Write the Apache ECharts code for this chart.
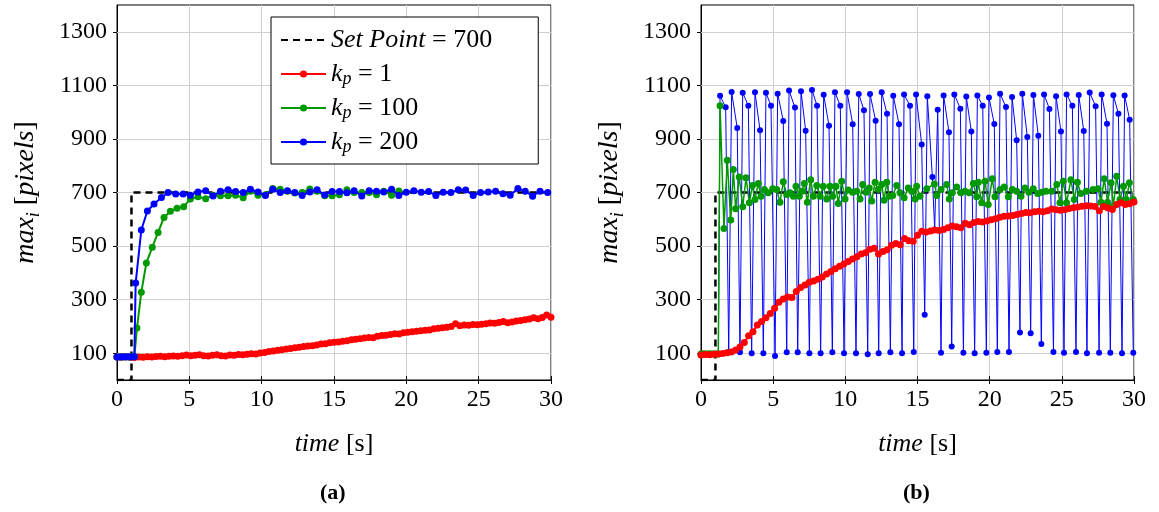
<!DOCTYPE html>
<html>
<head>
<meta charset="utf-8">
<script src="https://cdn.jsdelivr.net/npm/echarts@6/dist/echarts.min.js"></script>
<style>
  html, body { margin: 0; padding: 0; background: #fff; }
  #chart { width: 1159px; height: 512px; }
</style>
</head>
<body>
<div id="chart"></div>
<script>
// tick values
const xTicks = [0, 5, 10, 15, 20, 25, 30]
const yTicks = [100, 300, 500, 700, 900, 1100, 1300]

// set point step (both plots)
const setPoint = [[0, 0], [1, 0], [1, 700], [30, 700]]

// (a) kp = 1
const kp1A = [
  [0, 86], [0.3, 85], [0.6, 87], [0.9, 85], [1.2, 84], [1.5, 86], [1.8, 85], [2.1, 87], [2.4, 86], [2.7, 88],
  [3.0, 89], [3.3, 87], [3.6, 89], [3.9, 90], [4.2, 89], [4.5, 91], [4.8, 93], [5.1, 91], [5.4, 92], [5.7, 94],
  [6.0, 91], [6.3, 90], [6.6, 92], [6.9, 94], [7.2, 91], [7.5, 90], [7.8, 93], [8.1, 92], [8.4, 95], [8.7, 94],
  [9.0, 96], [9.3, 98], [9.6, 97], [9.9, 101], [10.2, 103], [10.5, 106], [10.8, 108], [11.1, 111], [11.4, 113], [11.7, 116],
  [12.0, 118], [12.3, 120], [12.6, 122], [12.9, 125], [13.2, 127], [13.5, 128], [13.8, 131], [14.1, 134], [14.4, 135], [14.7, 139],
  [15.0, 141], [15.3, 142], [15.6, 145], [15.9, 147], [16.2, 150], [16.5, 152], [16.8, 154], [17.1, 157], [17.4, 159], [17.7, 158],
  [18.0, 163], [18.3, 166], [18.6, 167], [18.9, 170], [19.2, 173], [19.5, 172], [19.8, 176], [20.1, 178], [20.4, 180], [20.7, 182],
  [21.0, 184], [21.3, 186], [21.6, 187], [21.9, 191], [22.2, 193], [22.5, 195], [22.8, 197], [23.1, 200], [23.4, 210], [23.7, 203],
  [24.0, 205], [24.3, 204], [24.6, 207], [24.9, 206], [25.2, 208], [25.5, 210], [25.8, 213], [26.1, 212], [26.4, 215], [26.7, 218],
  [27.0, 214], [27.3, 217], [27.6, 220], [27.9, 222], [28.2, 225], [28.5, 228], [28.8, 232], [29.1, 229], [29.4, 233], [29.7, 243],
  [30.0, 234]
]

// (a) kp = 100
const kp100A = [
  [0, 86], [0.2, 87], [0.4, 86], [0.6, 87], [0.8, 86], [1.0, 87], [1.2, 88], [1.38, 194], [1.68, 328], [2.03, 437],
  [2.44, 496], [2.84, 551], [3.25, 607], [3.69, 630], [4.15, 641], [4.61, 647], [5.07, 676], [5.6, 684], [6.13, 677], [6.64, 690],
  [7.15, 688], [7.68, 688], [8.2, 690], [8.72, 680], [9.22, 705], [9.75, 690], [10.26, 692], [10.77, 715], [11.28, 712], [11.78, 705],
  [12.29, 698], [12.8, 700], [13.33, 713], [13.83, 705], [14.36, 688], [14.87, 688], [15.38, 692], [15.89, 710], [16.39, 700], [16.92, 700],
  [17.43, 700], [17.94, 692], [18.44, 705], [18.98, 690], [19.48, 706]
]

// (a) kp = 200
const kp200A = [
  [0, 86], [0.2, 86], [0.4, 87], [0.6, 86], [0.8, 87], [1.0, 86], [1.2, 87], [1.29, 362], [1.68, 560], [2.1, 631],
  [2.56, 657], [3.07, 681], [3.53, 700], [4.06, 694], [4.57, 694], [5.07, 690], [5.6, 702], [6.13, 707], [6.64, 687], [7.15, 705],
  [7.68, 710], [8.2, 704], [8.72, 700], [9.22, 712], [9.75, 702], [10.26, 689], [10.77, 712], [11.28, 700], [11.78, 707], [12.29, 700],
  [12.8, 689], [13.33, 702], [13.83, 710], [14.36, 691], [14.87, 704], [15.38, 704], [15.89, 699], [16.39, 707], [16.92, 687], [17.43, 707],
  [17.94, 705], [18.44, 702], [18.98, 712], [19.48, 689], [19.99, 701], [20.52, 707], [21.03, 701], [21.54, 704], [22.04, 689], [22.55, 701],
  [23.08, 700], [23.59, 710], [24.1, 709], [24.62, 689], [25.13, 700], [25.66, 702], [26.17, 705], [26.68, 695], [27.18, 690], [27.71, 715],
  [28.22, 705], [28.73, 686], [29.24, 705], [29.77, 700]
]

// (b) kp = 1
const kp1B = [
  [0, 93], [0.3, 95], [0.6, 94], [0.9, 96], [1.2, 97], [1.5, 99], [1.8, 102], [2.1, 105], [2.4, 112], [2.7, 123],
  [3.0, 140], [3.3, 165], [3.6, 180], [3.9, 205], [4.2, 218], [4.5, 232], [4.8, 248], [5.1, 268], [5.4, 290], [5.7, 302],
  [6.0, 310], [6.3, 308], [6.6, 330], [6.9, 345], [7.2, 355], [7.5, 365], [7.8, 370], [8.1, 376], [8.4, 385], [8.7, 396],
  [9.0, 405], [9.3, 415], [9.6, 425], [9.9, 433], [10.2, 442], [10.5, 452], [10.8, 460], [11.1, 470], [11.4, 475], [11.7, 488],
  [12.0, 492], [12.3, 470], [12.6, 480], [12.9, 486], [13.2, 503], [13.5, 510], [13.8, 505], [14.1, 528], [14.4, 520], [14.7, 518],
  [15.0, 540], [15.3, 555], [15.6, 553], [15.9, 556], [16.2, 560], [16.5, 558], [16.8, 562], [17.1, 568], [17.4, 575], [17.7, 572],
  [18.0, 568], [18.3, 585], [18.6, 580], [18.9, 588], [19.2, 592], [19.5, 590], [19.8, 594], [20.1, 598], [20.4, 602], [20.7, 608],
  [21.0, 611], [21.3, 612], [21.6, 614], [21.9, 618], [22.2, 622], [22.5, 625], [22.8, 624], [23.1, 628], [23.4, 630], [23.7, 628],
  [24.0, 632], [24.3, 638], [24.6, 636], [24.9, 634], [25.2, 636], [25.5, 640], [25.8, 643], [26.1, 646], [26.4, 649], [26.7, 651],
  [27.0, 650], [27.3, 648], [27.6, 632], [27.9, 648], [28.2, 642], [28.5, 637], [28.8, 655], [29.1, 662], [29.4, 655], [29.7, 658],
  [30.0, 665]
]

// (b) kp = 100
const kp100B = [
  [0, 97], [0.2, 98], [0.4, 97], [0.6, 98], [0.8, 97], [1.0, 98], [1.2, 97], [1.32, 1024], [1.59, 566], [1.82, 820],
  [2.06, 597], [2.24, 786], [2.40, 639], [2.65, 758], [2.89, 647], [3.12, 755], [3.35, 662], [3.56, 726], [3.74, 674], [3.97, 734],
  [4.16, 686], [4.39, 711], [4.66, 699], [4.97, 714], [5.24, 711], [5.47, 664], [5.70, 740], [5.94, 693], [6.17, 699], [6.40, 686],
  [6.58, 723], [6.81, 686], [6.98, 705], [7.16, 734], [7.37, 664], [7.60, 748], [7.78, 686], [8.02, 726], [8.25, 686], [8.47, 723],
  [8.71, 676], [8.94, 723], [9.12, 686], [9.35, 723], [9.51, 659], [9.75, 742], [9.98, 676], [10.2, 709], [10.51, 701], [10.79, 705],
  [11.02, 676], [11.2, 730], [11.43, 701], [11.66, 717], [11.83, 668], [12.06, 738], [12.28, 711], [12.52, 730], [12.68, 671], [12.87, 738],
  [13.05, 686], [13.28, 689], [13.56, 726], [13.79, 699], [14.07, 680], [14.36, 717], [14.60, 705], [14.83, 676], [14.94, 723], [15.17, 686],
  [15.64, 714], [16.17, 732], [16.33, 689], [16.63, 711], [17.02, 730], [17.2, 676], [17.41, 699], [17.72, 721], [18.01, 699], [18.29, 705],
  [18.59, 699], [18.87, 734], [19.1, 684], [19.21, 738], [19.45, 662], [19.68, 742], [19.9, 655], [20.18, 751], [20.37, 684], [20.72, 711],
  [21.01, 721], [21.29, 684], [21.57, 711], [21.87, 705], [22.17, 686], [22.45, 717], [22.72, 701], [23.02, 714], [23.33, 696], [23.61, 701],
  [23.89, 705], [24.3, 705], [24.65, 730], [24.87, 662], [25.1, 742], [25.33, 662], [25.63, 748], [25.86, 674], [26.08, 738], [26.31, 696],
  [26.7, 705], [27.16, 711], [27.51, 714], [27.71, 664], [27.94, 751], [28.17, 664], [28.41, 736], [28.57, 649], [28.8, 761], [29.03, 674],
  [29.27, 723], [29.47, 674], [29.68, 736], [29.95, 674]
]

// (b) kp = 200
const kp200B = [
  [0, 97], [0.2, 96], [0.4, 97], [0.6, 96], [0.8, 97], [1.0, 96], [1.2, 97], [1.32, 1061], [1.71, 1018], [1.92, 104],
  [2.12, 1075], [2.51, 941], [2.70, 104], [2.89, 1072], [3.28, 1024], [3.51, 100], [3.74, 1074], [4.09, 932], [4.32, 100], [4.50, 1072],
  [4.85, 1024], [5.13, 90], [5.31, 1069], [5.70, 967], [5.94, 104], [6.10, 1081], [6.51, 1017], [6.70, 104], [6.93, 1078], [7.25, 931],
  [7.51, 100], [7.69, 1083], [8.04, 1024], [8.29, 100], [8.50, 1065], [8.87, 949], [9.10, 104], [9.28, 1074], [9.65, 1024], [9.91, 100],
  [10.12, 1074], [10.51, 955], [10.74, 100], [10.93, 1068], [11.29, 1007], [11.55, 96], [11.71, 1068], [12.10, 968], [12.31, 100], [12.52, 1074],
  [12.89, 994], [13.12, 104], [13.32, 1061], [13.72, 955], [13.93, 100], [14.07, 1066], [14.48, 1024], [14.74, 105], [14.90, 1066], [15.29, 879],
  [15.50, 244], [15.68, 1059], [16.03, 758], [16.19, 562], [16.40, 1009], [16.63, 102], [16.81, 1062], [17.18, 925], [17.37, 125], [17.55, 1066],
  [17.97, 1013], [18.18, 102], [18.38, 1058], [18.73, 928], [18.96, 100], [19.15, 1062], [19.52, 1024], [19.77, 102], [19.95, 1055], [20.32, 956],
  [20.53, 105], [20.72, 1069], [21.13, 1019], [21.34, 105], [21.55, 1057], [21.87, 895], [22.10, 177], [22.26, 1069], [22.61, 907], [22.84, 175],
  [23.03, 1064], [23.37, 912], [23.58, 134], [23.77, 1066], [24.14, 1012], [24.42, 105], [24.60, 1059], [24.94, 928], [25.15, 102], [25.33, 1066],
  [25.73, 1024], [25.98, 105], [26.17, 1064], [26.52, 930], [26.74, 100], [26.93, 1073], [27.34, 1022], [27.58, 102], [27.76, 1066], [28.13, 957],
  [28.36, 102], [28.57, 1063], [28.92, 994], [29.17, 100], [29.35, 1062], [29.70, 972], [29.95, 102]
]

const font = '"Liberation Serif", "DejaVu Serif", serif'

// legend labels (rich text)
const legendText = {
  sp: '{i|Set Point}{n| = 700}',
  kp1: '{i|k}{s|p}{n| = 1}',
  kp100: '{i|k}{s|p}{n| = 100}',
  kp200: '{i|k}{s|p}{n| = 200}'
}

const chart = echarts.init(document.getElementById('chart'))

function xAxisFor(gridIndex) {
  return {
    type: 'value',
    gridIndex,
    min: 0,
    max: 30,
    interval: 5,
    name: '{i|time}{n| [s]}',
    nameLocation: 'middle',
    nameGap: 51,
    nameTextStyle: {
      rich: {
        i: { fontFamily: font, fontStyle: 'italic', fontSize: 26, color: '#000' },
        n: { fontFamily: font, fontSize: 26, color: '#000' }
      }
    },
    axisLine: { show: true, onZero: false, lineStyle: { color: '#000', width: 1 } },
    axisTick: { show: true, inside: true, length: 4, lineStyle: { color: '#000' } },
    axisLabel: { color: '#000', fontFamily: font, fontSize: 24, margin: 8, customValues: xTicks, formatter: v => String(v) },
    splitLine: { show: true, lineStyle: { color: '#d0d0d0', width: 1 } }
  }
}

// mirrored ticks on the top edge
function xTopFor(gridIndex) {
  return {
    type: 'value',
    gridIndex,
    position: 'top',
    min: 0,
    max: 30,
    interval: 5,
    axisLine: { show: false },
    axisTick: { show: true, inside: true, length: 4, lineStyle: { color: '#000' } },
    axisLabel: { show: false },
    splitLine: { show: false }
  }
}

function yAxisFor(gridIndex) {
  return {
    type: 'value',
    gridIndex,
    min: 0,
    max: 1400,
    name: '{i|max}{s|i}{n| [}{i|pixels}{n|]}',
    nameLocation: 'middle',
    nameRotate: 90,
    nameGap: 74,
    nameTextStyle: {
      rich: {
        i: { fontFamily: font, fontStyle: 'italic', fontSize: 28, color: '#000', lineHeight: 34 },
        s: { fontFamily: font, fontStyle: 'italic', fontSize: 18, color: '#000', lineHeight: 20, verticalAlign: 'bottom' },
        n: { fontFamily: font, fontSize: 28, color: '#000', lineHeight: 34 }
      }
    },
    axisLine: { show: true, lineStyle: { color: '#000', width: 1 } },
    axisTick: { show: true, inside: true, length: 4, lineStyle: { color: '#000' }, customValues: yTicks },
    axisLabel: { color: '#000', fontFamily: font, fontSize: 24, margin: 10, customValues: yTicks, formatter: v => String(v) },
    splitLine: { show: false }
  }
}

// mirrored ticks on the right edge
function yRightFor(gridIndex) {
  return {
    type: 'value',
    gridIndex,
    position: 'right',
    min: 0,
    max: 1400,
    axisLine: { show: false },
    axisTick: { show: true, inside: true, length: 4, lineStyle: { color: '#000' }, customValues: yTicks },
    axisLabel: { show: false },
    splitLine: { show: false }
  }
}

// horizontal grid lines at the y tick values
function gridLines(i) {
  return {
    type: 'line',
    name: 'grid' + i,
    xAxisIndex: i,
    yAxisIndex: i,
    data: [],
    z: 1,
    silent: true,
    markLine: {
      z: 1,
      silent: true,
      symbol: ['none', 'none'],
      label: { show: false },
      lineStyle: { color: '#d0d0d0', type: 'solid', width: 1 },
      animation: false,
      data: yTicks.map(v => ({ yAxis: v }))
    }
  }
}

function setPointSeries(i) {
  return {
    type: 'line',
    name: 'sp',
    xAxisIndex: i,
    yAxisIndex: i,
    data: setPoint,
    showSymbol: false,
    symbol: 'none',
    z: 2,
    lineStyle: { color: '#000', width: 2.5, type: [7, 5] },
    itemStyle: { color: '#000' }
  }
}

function dataSeries(i, name, data, color, lineWidth, symbolSize, z) {
  return {
    type: 'line',
    name,
    xAxisIndex: i,
    yAxisIndex: i,
    data,
    z,
    symbol: 'circle',
    symbolSize,
    showAllSymbol: true,
    lineStyle: { color, width: lineWidth },
    itemStyle: { color }
  }
}

chart.setOption({
  animation: false,
  textStyle: { fontFamily: font },
  grid: [
    { left: 117, right: 608, top: 5, bottom: 132, show: true, borderColor: '#000', borderWidth: 1, backgroundColor: 'transparent' },
    { left: 701, right: 25, top: 5, bottom: 132, show: true, borderColor: '#000', borderWidth: 1, backgroundColor: 'transparent' }
  ],
  xAxis: [xAxisFor(0), xAxisFor(1), xTopFor(0), xTopFor(1)],
  yAxis: [yAxisFor(0), yAxisFor(1), yRightFor(0), yRightFor(1)],
  legend: {
    data: [
      { name: 'sp', itemStyle: { opacity: 0 } },
      'kp1',
      'kp100',
      'kp200'
    ],
    z: 10,
    orient: 'vertical',
    left: 271,
    top: 17,
    padding: [9, 46, 8, 9],
    itemGap: 6,
    itemWidth: 45,
    itemHeight: 9,
    backgroundColor: '#fff',
    borderColor: '#000',
    borderWidth: 1,
    borderRadius: 0,
    selectedMode: false,
    formatter: name => legendText[name],
    textStyle: {
      lineHeight: 28,
      rich: {
        i: { fontFamily: font, fontStyle: 'italic', fontSize: 26, color: '#000', lineHeight: 28 },
        s: { fontFamily: font, fontStyle: 'italic', fontSize: 18, color: '#000', lineHeight: 16, verticalAlign: 'bottom' },
        n: { fontFamily: font, fontSize: 26, color: '#000', lineHeight: 28 }
      }
    }
  },
  graphic: [
    { type: 'text', left: 320, top: 482, style: { text: '(a)', font: 'bold 22px ' + font, fill: '#000' } },
    { type: 'text', left: 903, top: 482, style: { text: '(b)', font: 'bold 22px ' + font, fill: '#000' } }
  ],
  series: [
    gridLines(0),
    gridLines(1),
    setPointSeries(0),
    dataSeries(0, 'kp1', kp1A, '#ff0000', 2, 7, 3),
    dataSeries(0, 'kp100', kp100A, '#009900', 2, 7, 4),
    dataSeries(0, 'kp200', kp200A, '#0000ff', 2, 7, 5),
    setPointSeries(1),
    dataSeries(1, 'kp200', kp200B, '#0000ff', 1, 6, 3),
    dataSeries(1, 'kp100', kp100B, '#009900', 1.5, 7, 4),
    dataSeries(1, 'kp1', kp1B, '#ff0000', 2, 7, 5)
  ]
})
</script>
</body>
</html>
